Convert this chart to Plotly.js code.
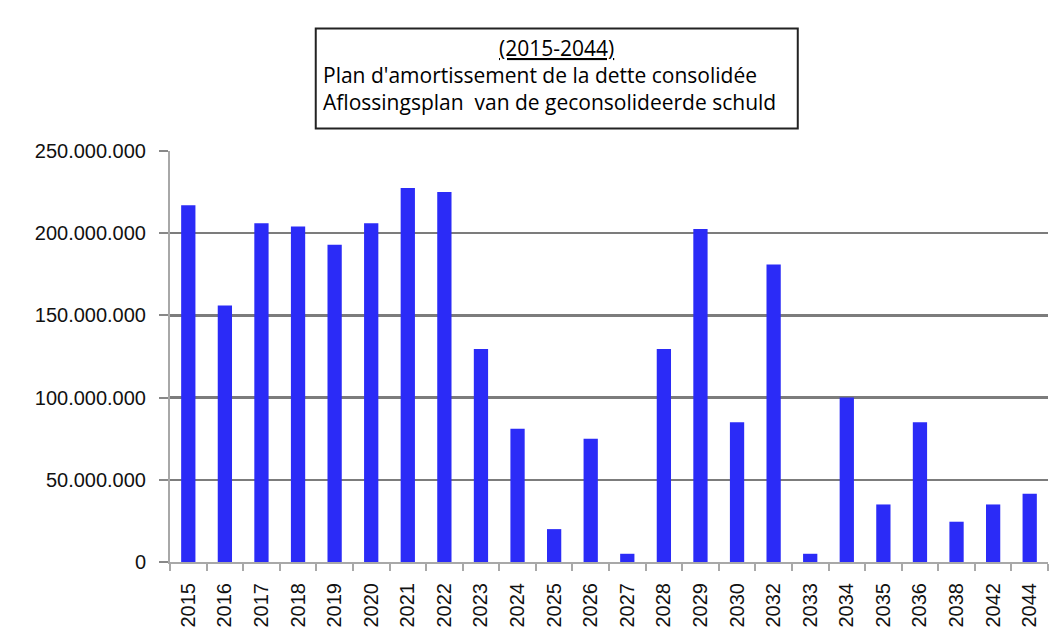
<!DOCTYPE html>
<html>
<head>
<meta charset="utf-8">
<script src="https://cdn.plot.ly/plotly-3.0.1.min.js"></script>
<style>html,body{margin:0;padding:0;background:#fff;}#chart{width:1053px;height:637px;}</style>
</head>
<body>
<div id="chart"></div>
<script>
const years = ["2015","2016","2017","2018","2019","2020","2021","2022","2023","2024","2025","2026","2027","2028","2029","2030","2032","2033","2034","2035","2036","2038","2042","2044"];
const amounts = [217000000,156000000,206000000,204000000,193000000,206000000,227500000,225000000,129500000,81000000,20000000,75000000,5000000,129500000,202500000,85000000,181000000,5000000,100000000,35000000,85000000,24500000,35000000,41500000];
const yTicks = [0,50000000,100000000,150000000,200000000,250000000];
const titleLines = ["(2015-2044)","Plan d'amortissement de la dette consolidée","Aflossingsplan  van de geconsolideerde schuld"];

const trace = {
  type: 'bar',
  x: years,
  y: amounts,
  marker: {color: '#2b2bf7'},
  hoverinfo: 'x+y'
};

const tf = {family: 'Liberation Sans, Arial, sans-serif', size: 20, color: '#111'};
const titleFont = {family: 'Open Sans, sans-serif', size: 21, color: '#000'};

const layout = {
  width: 1053, height: 637,
  margin: {l: 170, r: 5, t: 151, b: 75, pad: 0},
  paper_bgcolor: '#fff', plot_bgcolor: '#fff',
  separators: ',.',
  showlegend: false,
  bargap: 0.61,
  xaxis: {
    type: 'category',
    tickangle: -90,
    tickfont: tf,
    showline: true, linecolor: '#a8a8a8', linewidth: 2,
    ticks: 'outside', ticklen: 7, tickcolor: '#a8a8a8', tickwidth: 2,
    tickson: 'boundaries',
    showgrid: false,
    ticklabelstandoff: 11
  },
  yaxis: {
    range: [0, 250000000],
    tickvals: yTicks,
    tickformat: ',d',
    tickfont: tf,
    showline: true, linecolor: '#a8a8a8', linewidth: 2,
    ticks: 'outside', ticklen: 9, tickcolor: '#888', tickwidth: 2,
    showgrid: true, gridcolor: '#7c7c7c', gridwidth: 2.5,
    zeroline: false,
    ticklabelstandoff: 9
  },
  shapes: [{
    type: 'rect', xref: 'paper', yref: 'paper',
    x0: 0.166, x1: 0.715, y0: 1.055, y1: 1.298,
    line: {color: '#222', width: 2}, fillcolor: 'rgba(0,0,0,0)'
  }],
  annotations: [
    {xref: 'paper', yref: 'paper', x: 0.4405, y: 1.250, xanchor: 'center', yanchor: 'middle', showarrow: false,
     text: '<span style="text-decoration:underline">' + titleLines[0] + '</span>', font: titleFont},
    {xref: 'paper', yref: 'paper', x: 0.172, y: 1.184, xanchor: 'left', yanchor: 'middle', showarrow: false,
     text: titleLines[1], font: titleFont},
    {xref: 'paper', yref: 'paper', x: 0.172, y: 1.120, xanchor: 'left', yanchor: 'middle', showarrow: false,
     text: titleLines[2], font: titleFont}
  ]
};

Plotly.newPlot('chart', [trace], layout, {displayModeBar: false, staticPlot: true});
</script>
</body>
</html>
